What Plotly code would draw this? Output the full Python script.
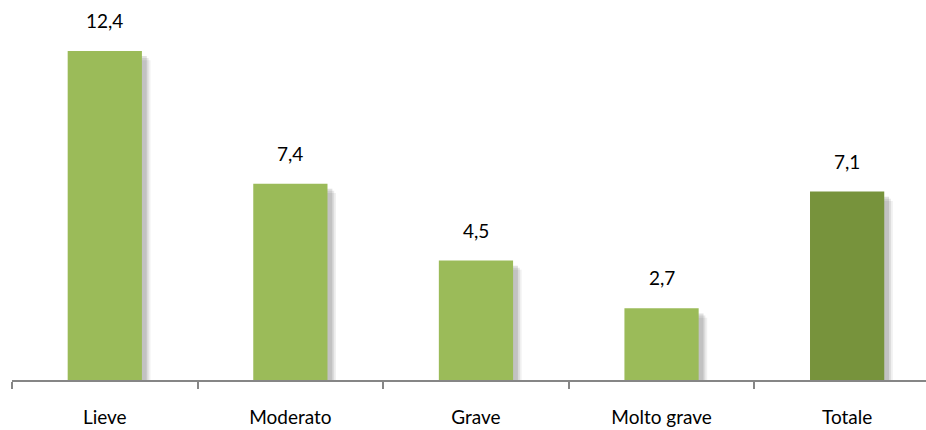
import plotly.graph_objects as go

categories = ["Lieve", "Moderato", "Grave", "Molto grave", "Totale"]
values = [12.4, 7.4, 4.5, 2.7, 7.1]
bar_colors = ["#9BBB59", "#9BBB59", "#9BBB59", "#9BBB59", "#77933C"]

labels = [f"{v:.1f}".replace(".", ",") for v in values]

BAR_W = 0.4
fig = go.Figure()

# soft drop shadow: several translucent layers, slightly shifted right/down
shadow_layers = [(0.036, 0.30, 0.08), (0.026, 0.22, 0.12), (0.016, 0.14, 0.16)]
for dx, dy, op in shadow_layers:
    fig.add_trace(go.Bar(
        x=categories,
        y=[v - 0.05 for v in values],
        base=[-dy] * len(values),
        width=BAR_W + dx,
        offset=-BAR_W / 2 + 0.01,
        marker=dict(color=f"rgba(70,70,70,{op})", line=dict(width=0)),
        hoverinfo="skip",
        showlegend=False,
        cliponaxis=False,
    ))

fig.add_trace(go.Bar(
    x=categories,
    y=values,
    width=BAR_W,
    marker=dict(color=bar_colors, line=dict(width=0)),
    showlegend=False,
))

for c, v, t in zip(categories, values, labels):
    fig.add_annotation(x=c, y=v, text=t, showarrow=False, yanchor="bottom",
                       yshift=17, font=dict(family="Lato", size=19, color="#000000"))

fig.update_layout(
    width=926, height=430,
    margin=dict(l=12, r=0, t=0, b=50, autoexpand=False),
    plot_bgcolor="white", paper_bgcolor="white",
    barmode="overlay",
    font=dict(family="Lato", size=19, color="#000000"),
)
fig.update_xaxes(
    type="category", range=[-0.5, 4.425], automargin=False,
    tickson="boundaries", ticks="outside", ticklen=7, tickcolor="#868686", tickwidth=1.5,
    showline=True, linecolor="#868686", linewidth=1.5,
    showgrid=False, zeroline=False, ticklabelstandoff=19,
)
fig.update_yaxes(range=[0, 14.32], visible=False, showgrid=False, zeroline=False,
                 automargin=False)

fig.write_html("out.html")
